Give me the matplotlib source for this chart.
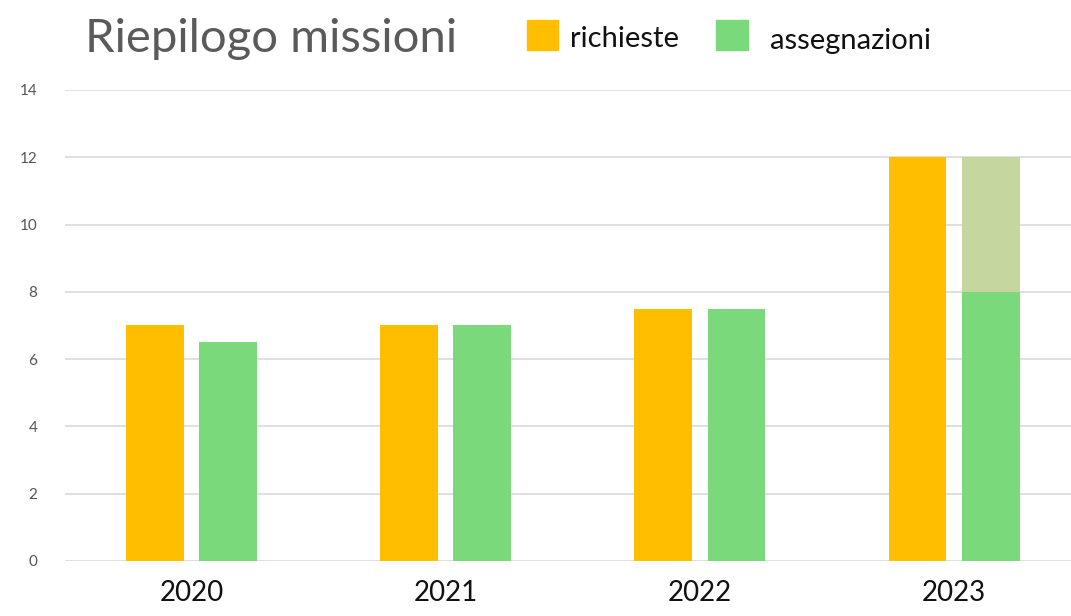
import numpy as np
import matplotlib.pyplot as plt
from matplotlib.patches import Rectangle

# Data
years = ["2020", "2021", "2022", "2023"]
richieste = [7, 7, 7.5, 12]
assegnazioni = [6.5, 7, 7.5, 8]
in_attesa = [0, 0, 0, 4]   # lighter green part stacked on 2023

orange = "#FFBF00"
green = "#79D97B"
light_green = "#C5D69E"

plt.rcParams['font.family'] = ['Lato', 'DejaVu Sans']

fig = plt.figure(figsize=(10.71, 6.16), dpi=100)
ax = fig.add_axes([0.0607, 0.0893, 0.9393, 0.7646])

x = np.arange(len(years))
w = 0.228
off = 0.144
ax.bar(x - off, richieste, w, color=orange, zorder=3)
ax.bar(x + off, assegnazioni, w, color=green, zorder=3)
ax.bar(x + off, in_attesa, w, bottom=assegnazioni, color=light_green, zorder=3)

ax.set_ylim(0, 14)
ax.set_xlim(-0.498, 3.46)
ax.set_yticks(range(0, 15, 2))
ax.yaxis.grid(True, color="#DDDDDD", linewidth=1.3, zorder=0)
for s in ax.spines.values():
    s.set_visible(False)
ax.tick_params(axis="y", length=0, pad=20, labelsize=11, labelcolor="#555555")
ax.tick_params(axis="x", length=0, pad=14, labelsize=20, labelcolor="#111111")
ax.set_xticks(x)
ax.set_xticklabels(years)

# title and legend
fig.text(0.079, 0.937, "Riepilogo missioni", fontsize=34,
         color="#5a5a5a", va="center")
fig.patches.append(Rectangle((0.492, 0.919), 0.029, 0.049, transform=fig.transFigure,
                             color=orange, figure=fig))
fig.text(0.532, 0.937, "richieste", fontsize=21, color="#111111", va="center")
fig.patches.append(Rectangle((0.669, 0.919), 0.029, 0.049, transform=fig.transFigure,
                             color=green, figure=fig))
fig.text(0.719, 0.934, "assegnazioni", fontsize=21, color="#111111", va="center")

fig.savefig("out.png", dpi=100)
